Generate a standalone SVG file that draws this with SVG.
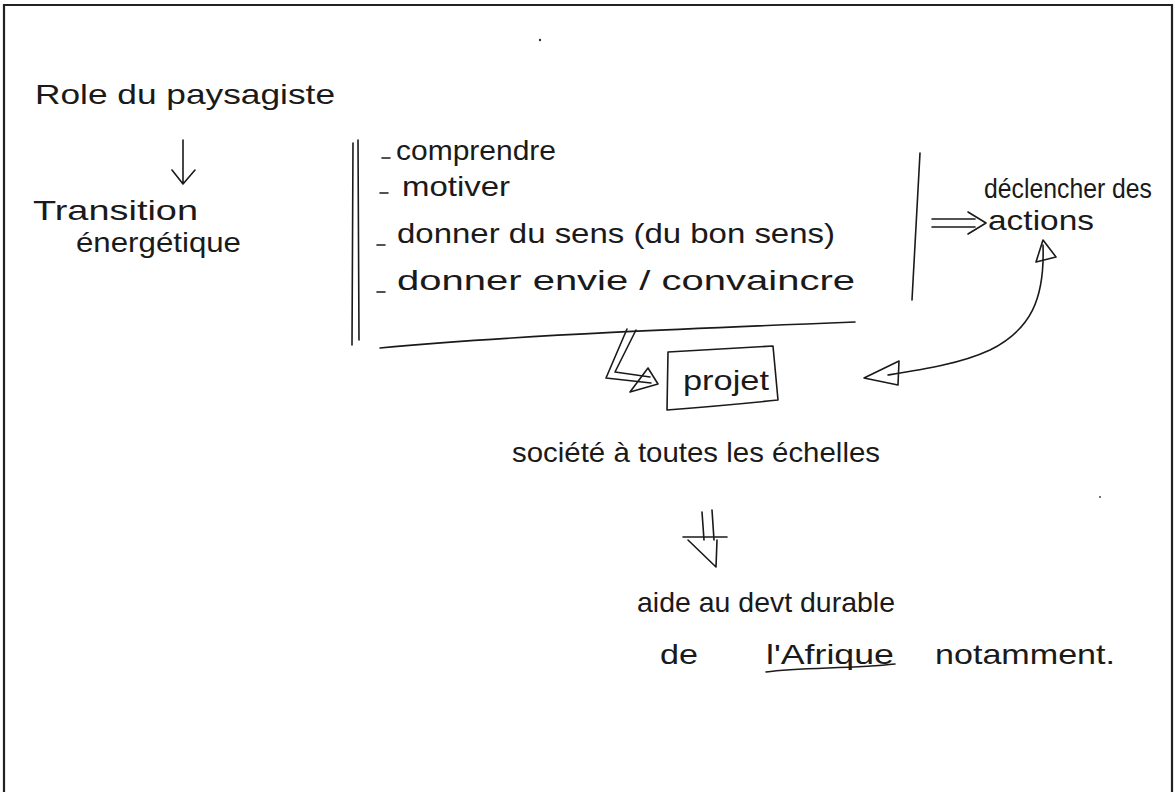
<svg xmlns="http://www.w3.org/2000/svg" width="1175" height="792" viewBox="0 0 1175 792">
<style>
.t{font-family:"Liberation Sans","DejaVu Sans",sans-serif;font-size:28px;fill:#1a1a1a}
.s{fill:none;stroke:#1a1a1a;stroke-width:1.6;stroke-linecap:round;stroke-linejoin:round}
.f{fill:none;stroke:#222;stroke-width:2.2}
</style>
<rect width="1175" height="792" fill="#fff"/>
<path class="f" d="M4,792 V5 H1172 V792"/>
<g id="role">
<text class="t" x="35" y="104" font-size="31" textLength="300" lengthAdjust="spacingAndGlyphs">Role du paysagiste</text>
</g>
<g id="transition">
<text class="t" x="33" y="220" font-size="29" textLength="165" lengthAdjust="spacingAndGlyphs">Transition</text>
<text class="t" x="76" y="252" font-size="27" textLength="165" lengthAdjust="spacingAndGlyphs">énergétique</text>
</g>
<g id="liste">
<path class="s" d="M353,143 L352,345 M358,140 L359,340"/>
<path class="s" d="M382,158 H390 M380,193 H388 M377,245 H385 M377,292 H385"/>
<text class="t" x="396" y="160" font-size="29" textLength="160" lengthAdjust="spacingAndGlyphs">comprendre</text>
<text class="t" x="402" y="196" font-size="29" textLength="108" lengthAdjust="spacingAndGlyphs">motiver</text>
<text class="t" x="397" y="243" font-size="29" textLength="438" lengthAdjust="spacingAndGlyphs">donner du sens (du bon sens)</text>
<text class="t" x="397" y="290" font-size="31" textLength="458" lengthAdjust="spacingAndGlyphs">donner envie / convaincre</text>
<path class="s" d="M380,348 C520,335 700,328 855,322"/>
</g>
<g id="actions">
<path class="s" d="M920,153 L912,300"/>
<text class="t" x="984" y="198" font-size="25" textLength="168" lengthAdjust="spacingAndGlyphs">déclencher des</text>
<text class="t" x="988" y="230" font-size="28" textLength="106" lengthAdjust="spacingAndGlyphs">actions</text>
</g>
<g id="projet">
<path class="s" d="M668,352 C705,350 740,348 773,346 L778,400 C740,404 705,407 667,410 Z"/>
<text class="t" x="683" y="390" font-size="28" textLength="86" lengthAdjust="spacingAndGlyphs">projet</text>
</g>
<g id="societe">
<text class="t" x="512" y="462" font-size="26" textLength="368" lengthAdjust="spacingAndGlyphs">société à toutes les échelles</text>
</g>
<g id="aide">
<text class="t" x="637" y="612" font-size="27" textLength="258" lengthAdjust="spacingAndGlyphs">aide au devt durable</text>
<text class="t" x="660" y="664" font-size="29" textLength="38" lengthAdjust="spacingAndGlyphs">de</text>
<text class="t" x="766" y="664" font-size="29" textLength="128" lengthAdjust="spacingAndGlyphs">l'Afrique</text>
<text class="t" x="935" y="664" font-size="26" textLength="180" lengthAdjust="spacingAndGlyphs">notamment.</text>
<path class="s" d="M766,672 C800,667 850,669 895,664"/>
</g>
<g id="connectors">
<path class="s" d="M183,140 L183,183 M172,170 L183,184 L195,170"/>
<path class="s" d="M932,219 H975 M932,227 H975 M968,212 L986,223 L968,234"/>
<path class="s" d="M627,329 L606,378 L651,383 M636,330 L615,372 L650,377"/>
<path class="s" d="M648,368 L658,384 L630,392 Z"/>
<path class="s" d="M1043,245 C1045,300 1030,330 990,350 C960,364 920,370 888,375"/>
<path class="s" d="M1036,262 L1043,240 L1056,257 Z"/>
<path class="s" d="M899,361 L864,378 L898,385 Z"/>
<path class="s" d="M702,512 L704,540 M712,510 L714,540 M683,537 H727 M688,540 L716,567 L717,540"/>
</g>
<circle cx="540" cy="40" r="1.2" fill="#333"/>
<circle cx="1100" cy="497" r="1" fill="#444"/>
</svg>
